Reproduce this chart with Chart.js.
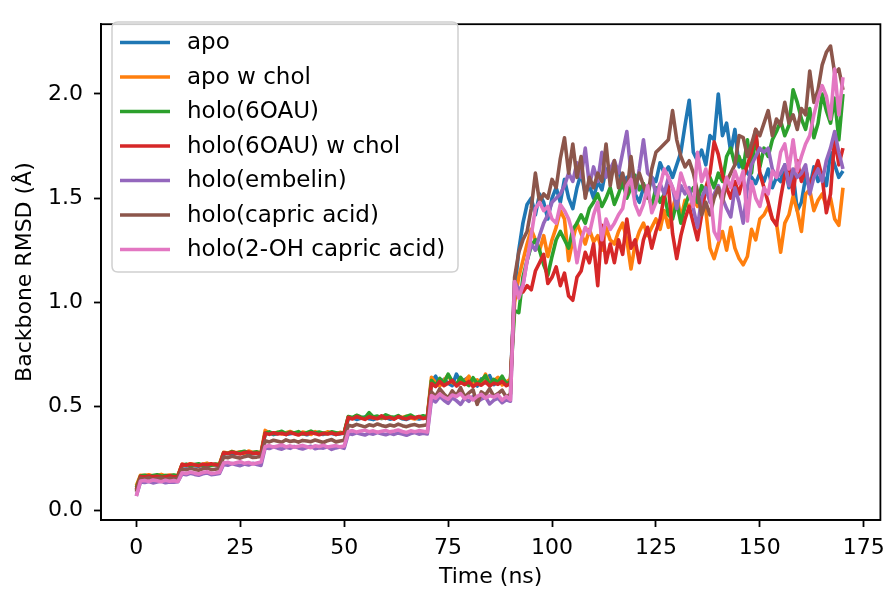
<!DOCTYPE html>
<html>
<head>
<meta charset="utf-8">
<script src="https://cdn.jsdelivr.net/npm/chart.js@4.4.0/dist/chart.umd.min.js"></script>
<style>
  html, body { margin: 0; padding: 0; background: #fff; }
  #wrap { width: 893px; height: 590px; position: relative; }
</style>
</head>
<body>
<div id="wrap"><canvas id="c" width="893" height="590"></canvas></div>
<script>
const timeNs = [0,1,2,3,4,5,6,7,8,9,10,11,12,13,14,15,16,17,18,19,20,21,22,23,24,25,26,27,28,29,30,
31,32,33,34,35,36,37,38,39,40,41,42,43,44,45,46,47,48,49,50,51,52,53,54,55,56,57,58,59,60,
61,62,63,64,65,66,67,68,69,70,71,72,73,74,75,76,77,78,79,80,81,82,83,84,85,86,87,88,89,90,
91,92,93,94,95,96,97,98,99,100,101,102,103,104,105,106,107,108,109,110,111,112,113,114,115,116,117,118,119,120,
121,122,123,124,125,126,127,128,129,130,131,132,133,134,135,136,137,138,139,140,141,142,143,144,145,146,147,148,149,150,
151,152,153,154,155,156,157,158,159,160,161,162,163,164,165,166,167,168,169,170];

const seriesLabels = ["apo","apo w chol","holo(6OAU)","holo(6OAU) w chol","holo(embelin)","holo(capric acid)","holo(2-OH capric acid)"];
const seriesColors = ["#1f77b4","#ff7f0e","#2ca02c","#d62728","#9467bd","#8c564b","#e377c2"];

const apo = [0.10,
.165,.162,.166,.163,.160,.164,.167,.162,.165,.163,
.218,.214,.220,.216,.213,.219,.215,.221,.217,.214,
.272,.276,.270,.274,.279,.271,.275,.273,.277,.270,
.368,.372,.365,.370,.374,.366,.369,.373,.367,.371,.364,.369,.375,.368,.366,.372,.370,.365,.369,.373,
.440,.446,.438,.443,.449,.441,.437,.445,.442,.447,.439,.444,.450,.441,.438,.446,.443,.440,.445,.442,
.620,.645,.605,.630,.612,.600,.655,.618,.628,.640,.610,.598,.632,.615,.648,.605,.622,.636,.610,.625,
1.05,1.25,1.38,1.47,1.50,1.42,1.52,1.48,1.40,1.50,
1.55,1.48,1.59,1.50,1.45,1.55,1.62,1.52,1.56,1.50,
1.58,1.54,1.64,1.60,1.66,1.64,1.55,1.60,1.57,1.52,
1.48,1.55,1.52,1.60,1.58,1.67,1.62,1.65,1.60,1.66,
1.72,1.85,1.97,1.72,1.68,1.73,1.66,1.80,1.78,2.00,
1.80,1.86,1.72,1.83,1.65,1.68,1.62,1.60,1.57,1.62,
1.58,1.64,1.55,1.60,1.58,1.66,1.55,1.62,1.44,1.48,
1.60,1.55,1.65,1.58,1.62,1.56,1.72,1.66,1.60,1.63];

const apoChol = [0.12,
.170,.168,.172,.166,.169,.174,.167,.171,.168,.170,
.222,.218,.225,.220,.217,.223,.228,.219,.221,.224,
.280,.276,.284,.278,.282,.275,.286,.279,.281,.277,
.385,.372,.370,.376,.368,.374,.380,.371,.369,.377,.373,.366,.379,.372,.370,.378,.374,.368,.376,.371,
.450,.444,.456,.447,.441,.452,.446,.449,.443,.455,.448,.442,.451,.447,.453,.445,.440,.450,.446,.448,
.640,.612,.598,.625,.650,.615,.605,.632,.620,.645,.600,.628,.612,.655,.608,.622,.640,.603,.618,.630,
1.00,1.12,1.20,1.28,1.35,1.30,1.25,1.32,1.22,1.30,
1.36,1.44,1.40,1.20,1.30,1.38,1.33,1.28,1.35,1.29,
1.32,1.25,1.36,1.30,1.28,1.34,1.38,1.30,1.16,1.28,
1.34,1.38,1.32,1.36,1.40,1.35,1.44,1.36,1.45,1.52,
1.40,1.49,1.45,1.50,1.46,1.48,1.44,1.26,1.21,1.28,
1.34,1.25,1.36,1.26,1.21,1.18,1.22,1.35,1.30,1.40,
1.42,1.46,1.40,1.38,1.24,1.38,1.42,1.51,1.44,1.34,
1.52,1.54,1.44,1.49,1.52,1.46,1.50,1.40,1.37,1.55];

const holo6OAU = [0.11,
.166,.170,.164,.168,.172,.165,.169,.167,.171,.166,
.219,.223,.216,.221,.225,.218,.222,.217,.224,.220,
.278,.274,.283,.277,.280,.285,.276,.279,.282,.275,
.372,.378,.369,.375,.381,.370,.376,.373,.379,.368,.374,.382,.371,.377,.372,.369,.378,.374,.370,.376,
.452,.447,.458,.450,.445,.470,.449,.454,.446,.460,.451,.448,.456,.443,.452,.459,.447,.450,.455,.449,
.625,.600,.635,.612,.655,.620,.605,.640,.615,.600,.638,.610,.625,.648,.602,.630,.615,.645,.608,.620,
0.96,0.95,1.12,1.20,1.27,1.30,1.25,1.18,1.13,1.22,
1.30,1.34,1.30,1.26,1.35,1.38,1.42,1.38,1.45,1.48,
1.52,1.46,1.50,1.55,1.47,1.52,1.58,1.50,1.55,1.61,
1.54,1.57,1.52,1.46,1.55,1.48,1.52,1.42,1.40,1.48,
1.38,1.46,1.52,1.55,1.48,1.56,1.52,1.60,1.55,1.62,
1.58,1.70,1.74,1.66,1.70,1.64,1.78,1.62,1.81,1.65,
1.74,1.70,1.78,1.82,1.87,1.80,1.85,2.02,1.96,1.88,
1.83,1.93,1.79,1.86,2.00,1.92,1.86,1.98,1.78,2.00];

const holo6OAUChol = [0.10,
.164,.161,.166,.162,.165,.160,.163,.167,.162,.164,
.222,.218,.224,.220,.216,.223,.219,.225,.221,.217,
.278,.274,.280,.276,.272,.279,.281,.275,.277,.273,
.372,.366,.374,.368,.371,.365,.375,.369,.363,.372,.367,.374,.370,.364,.371,.368,.373,.366,.370,.372,
.448,.440,.452,.444,.438,.450,.446,.441,.455,.443,.448,.439,.451,.445,.440,.449,.444,.452,.442,.447,
.610,.595,.620,.600,.612,.625,.598,.615,.605,.620,.595,.610,.602,.618,.598,.612,.606,.620,.600,.610,
1.04,1.06,1.05,1.08,1.06,1.15,1.19,1.23,1.09,1.12,
1.17,1.08,1.14,1.03,1.01,1.12,1.15,1.24,1.19,1.28,
1.08,1.37,1.19,1.28,1.19,1.30,1.23,1.40,1.26,1.30,
1.19,1.30,1.36,1.26,1.34,1.40,1.51,1.56,1.33,1.21,
1.32,1.40,1.46,1.38,1.30,1.42,1.55,1.62,1.77,1.71,
1.61,1.55,1.50,1.58,1.52,1.60,1.66,1.72,1.83,1.62,
1.55,1.48,1.40,1.37,1.50,1.61,1.66,1.52,1.68,1.58,
1.64,1.55,1.62,1.68,1.60,1.43,1.52,1.79,1.66,1.74];

const holoEmbelin = [0.07,
.138,.135,.140,.133,.137,.141,.134,.138,.136,.139,
.176,.172,.179,.174,.170,.177,.181,.173,.175,.178,
.222,.218,.226,.220,.216,.224,.219,.227,.221,.217,
.302,.298,.306,.300,.295,.304,.299,.308,.301,.296,.303,.309,.297,.302,.300,.306,.294,.301,.305,.299,
.370,.366,.374,.368,.363,.372,.367,.375,.369,.364,.371,.366,.373,.368,.362,.370,.375,.367,.371,.368,
.535,.522,.548,.530,.515,.542,.528,.510,.540,.525,.548,.520,.535,.545,.512,.530,.540,.518,.532,.525,
1.10,1.06,1.08,1.20,1.28,1.25,1.32,1.38,1.42,1.48,
1.50,1.52,1.56,1.62,1.58,1.67,1.60,1.74,1.56,1.65,
1.58,1.72,1.60,1.64,1.68,1.62,1.72,1.82,1.62,1.52,
1.64,1.78,1.62,1.60,1.52,1.57,1.52,1.60,1.55,1.45,
1.56,1.52,1.55,1.45,1.36,1.50,1.55,1.48,1.52,1.56,
1.50,1.45,1.41,1.55,1.48,1.38,1.55,1.66,1.70,1.74,
1.72,1.74,1.64,1.60,1.62,1.66,1.56,1.64,1.60,1.62,
1.66,1.52,1.60,1.64,1.58,1.68,1.74,1.82,1.72,1.64];

const holoCapric = [0.09,
.155,.152,.158,.150,.154,.157,.151,.156,.153,.155,
.200,.196,.203,.198,.194,.201,.205,.197,.199,.202,
.258,.254,.261,.256,.252,.259,.263,.255,.257,.260,
.335,.330,.338,.333,.328,.340,.332,.336,.329,.337,.334,.331,.339,.333,.327,.336,.341,.330,.334,.338,
.410,.405,.414,.408,.402,.412,.407,.416,.409,.404,.411,.406,.415,.408,.403,.410,.413,.406,.409,.412,
.570,.548,.585,.560,.540,.575,.552,.590,.545,.565,.580,.510,.570,.555,.585,.548,.562,.578,.545,.560,
1.12,1.24,1.30,1.34,1.45,1.62,1.48,1.52,1.50,1.59,
1.55,1.69,1.79,1.62,1.76,1.60,1.70,1.50,1.60,1.55,
1.62,1.58,1.76,1.56,1.68,1.55,1.62,1.52,1.70,1.55,
1.62,1.56,1.50,1.64,1.72,1.74,1.76,1.78,1.92,1.78,
1.70,1.65,1.68,1.62,1.53,1.42,1.48,1.42,1.50,1.55,
1.48,1.58,1.62,1.66,1.80,1.79,1.70,1.76,1.83,1.80,
1.86,1.92,1.80,1.88,1.85,1.96,1.86,1.90,1.83,1.93,
1.90,2.11,1.96,2.02,2.14,2.20,2.23,2.10,2.12,2.02];

const holo2OHCapric = [0.07,
.142,.145,.140,.147,.143,.139,.146,.141,.144,.140,
.182,.178,.185,.180,.176,.183,.187,.179,.181,.184,
.228,.232,.225,.230,.235,.227,.231,.224,.229,.233,
.308,.312,.305,.310,.315,.306,.311,.304,.309,.313,.307,.302,.311,.308,.314,.305,.309,.312,.306,.310,
.380,.384,.377,.382,.386,.379,.383,.376,.381,.385,.378,.382,.387,.380,.375,.383,.379,.384,.381,.377,
.552,.540,.560,.545,.535,.555,.548,.562,.538,.550,.532,.548,.558,.540,.552,.545,.556,.530,.548,.532,
1.10,1.02,1.08,1.20,1.32,1.45,1.48,1.44,1.46,1.40,
1.38,1.47,1.44,1.40,1.33,1.19,1.30,1.36,1.33,1.42,
1.48,1.30,1.40,1.35,1.38,1.42,1.45,1.56,1.59,1.47,
1.42,1.47,1.56,1.43,1.48,1.56,1.64,1.60,1.55,1.50,
1.62,1.56,1.52,1.46,1.72,1.58,1.64,1.54,1.34,1.30,
1.52,1.60,1.55,1.63,1.57,1.63,1.39,1.58,1.50,1.46,
1.55,1.52,1.63,1.60,1.72,1.76,1.64,1.78,1.63,1.70,
1.76,1.80,1.90,1.98,2.04,1.99,1.88,2.12,1.90,2.08];

const seriesValues = [apo, apoChol, holo6OAU, holo6OAUChol, holoEmbelin, holoCapric, holo2OHCapric];
const xTicks = [0,25,50,75,100,125,150,175];
const yTicks = [0.0,0.5,1.0,1.5,2.0];

const FONT = "DejaVu Sans";

const datasets = seriesValues.map((vals, i) => ({
  label: seriesLabels[i],
  data: timeNs.map((t, k) => ({x: t, y: vals[k]})),
  borderColor: seriesColors[i],
  backgroundColor: seriesColors[i],
  borderWidth: 3.6,
  pointRadius: 0,
  tension: 0,
  fill: false,
  borderJoinStyle: 'round',
  borderCapStyle: 'butt',
  order: seriesValues.length - i
}));

const framePlugin = {
  id: 'frameAndLegend',
  afterDatasetsDraw(chart) {
    const ctx = chart.ctx;
    const a = chart.chartArea;
    ctx.save();
    ctx.strokeStyle = '#000';
    ctx.lineWidth = 1.8;
    ctx.strokeRect(a.left, a.top, a.right - a.left, a.bottom - a.top);
    const bx = 112, by = 22, bw = 346, bh = 250, r = 6;
    ctx.beginPath();
    ctx.moveTo(bx + r, by);
    ctx.lineTo(bx + bw - r, by);
    ctx.quadraticCurveTo(bx + bw, by, bx + bw, by + r);
    ctx.lineTo(bx + bw, by + bh - r);
    ctx.quadraticCurveTo(bx + bw, by + bh, bx + bw - r, by + bh);
    ctx.lineTo(bx + r, by + bh);
    ctx.quadraticCurveTo(bx, by + bh, bx, by + bh - r);
    ctx.lineTo(bx, by + r);
    ctx.quadraticCurveTo(bx, by, bx + r, by);
    ctx.closePath();
    ctx.fillStyle = 'rgba(255,255,255,0.8)';
    ctx.fill();
    ctx.strokeStyle = '#d0d0d0';
    ctx.lineWidth = 1.5;
    ctx.stroke();
    ctx.font = '23px "' + FONT + '"';
    ctx.textBaseline = 'middle';
    ctx.textAlign = 'left';
    chart.data.datasets.forEach((ds, i) => {
      const y = 42.5 + i * 34.5;
      ctx.strokeStyle = ds.borderColor;
      ctx.lineWidth = 3.3;
      ctx.lineCap = 'butt';
      ctx.beginPath();
      ctx.moveTo(120, y);
      ctx.lineTo(170, y);
      ctx.stroke();
      ctx.fillStyle = '#000';
      ctx.fillText(ds.label, 187, y + 1);
    });
    ctx.restore();
  }
};

new Chart(document.getElementById('c'), {
  type: 'line',
  data: { datasets },
  plugins: [framePlugin],
  options: {
    responsive: false,
    animation: false,
    devicePixelRatio: 1,
    layout: { padding: { top: 12, right: 11, left: 0, bottom: 0 } },
    plugins: { legend: { display: false }, tooltip: { enabled: false } },
    scales: {
      x: {
        type: 'linear',
        min: -8.5,
        max: 179,
        afterBuildTicks: (s) => { s.ticks = xTicks.map(v => ({value: v})); },
        afterFit: (s) => { s.height = 70; },
        ticks: { font: { family: FONT, size: 22 }, color: '#000', padding: 8, maxRotation: 0, autoSkip: false },
        grid: { display: true, drawOnChartArea: false, drawTicks: true, tickLength: 7, tickWidth: 1.8, tickColor: '#000' },
        border: { display: true, color: '#000', width: 1.8 },
        title: { display: true, text: 'Time (ns)', font: { family: FONT, size: 22 }, color: '#000', padding: { top: 0, bottom: 0 } }
      },
      y: {
        type: 'linear',
        min: -0.045,
        max: 2.335,
        afterBuildTicks: (s) => { s.ticks = yTicks.map(v => ({value: v})); },
        afterFit: (s) => { s.width = 101; },
        ticks: { font: { family: FONT, size: 22 }, color: '#000', padding: 11, autoSkip: false, callback: (v) => Number(v).toFixed(1) },
        grid: { display: true, drawOnChartArea: false, drawTicks: true, tickLength: 7, tickWidth: 1.8, tickColor: '#000' },
        border: { display: true, color: '#000', width: 1.8 },
        title: { display: true, text: 'Backbone RMSD (Å)', font: { family: FONT, size: 22 }, color: '#000', padding: { top: 12, bottom: 0 } }
      }
    }
  }
});
</script>
</body>
</html>
